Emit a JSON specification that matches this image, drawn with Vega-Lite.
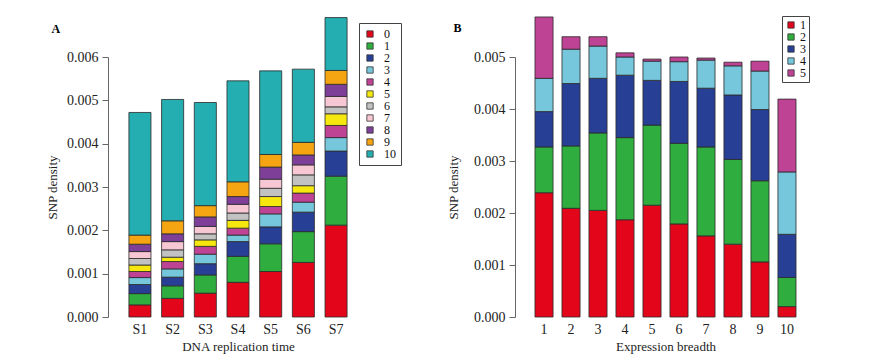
{
  "$schema": "https://vega.github.io/schema/vega-lite/v6.json",
  "background": "white",
  "padding": {"left": 46, "top": 15, "right": 5, "bottom": 5},
  "bounds": "flush",
  "spacing": 147,
  "datasets": {
    "a": [
      {"t":"S1","k":0,"v":0.00028},{"t":"S1","k":1,"v":0.00026},{"t":"S1","k":2,"v":0.00021},{"t":"S1","k":3,"v":0.00016},{"t":"S1","k":4,"v":0.00014},{"t":"S1","k":5,"v":0.00015},{"t":"S1","k":6,"v":0.00015},{"t":"S1","k":7,"v":0.00016},{"t":"S1","k":8,"v":0.00017},{"t":"S1","k":9,"v":0.00021},{"t":"S1","k":10,"v":0.00283},
      {"t":"S2","k":0,"v":0.00043},{"t":"S2","k":1,"v":0.00029},{"t":"S2","k":2,"v":0.00020},{"t":"S2","k":3,"v":0.00019},{"t":"S2","k":4,"v":0.00017},{"t":"S2","k":5,"v":0.00010},{"t":"S2","k":6,"v":0.00017},{"t":"S2","k":7,"v":0.00019},{"t":"S2","k":8,"v":0.00018},{"t":"S2","k":9,"v":0.00030},{"t":"S2","k":10,"v":0.00280},
      {"t":"S3","k":0,"v":0.00055},{"t":"S3","k":1,"v":0.00042},{"t":"S3","k":2,"v":0.00026},{"t":"S3","k":3,"v":0.00022},{"t":"S3","k":4,"v":0.00018},{"t":"S3","k":5,"v":0.00015},{"t":"S3","k":6,"v":0.00014},{"t":"S3","k":7,"v":0.00017},{"t":"S3","k":8,"v":0.00022},{"t":"S3","k":9,"v":0.00026},{"t":"S3","k":10,"v":0.00238},
      {"t":"S4","k":0,"v":0.00080},{"t":"S4","k":1,"v":0.00060},{"t":"S4","k":2,"v":0.00034},{"t":"S4","k":3,"v":0.00015},{"t":"S4","k":4,"v":0.00016},{"t":"S4","k":5,"v":0.00018},{"t":"S4","k":6,"v":0.00017},{"t":"S4","k":7,"v":0.00020},{"t":"S4","k":8,"v":0.00018},{"t":"S4","k":9,"v":0.00034},{"t":"S4","k":10,"v":0.00233},
      {"t":"S5","k":0,"v":0.00105},{"t":"S5","k":1,"v":0.00064},{"t":"S5","k":2,"v":0.00039},{"t":"S5","k":3,"v":0.00030},{"t":"S5","k":4,"v":0.00017},{"t":"S5","k":5,"v":0.00023},{"t":"S5","k":6,"v":0.00019},{"t":"S5","k":7,"v":0.00021},{"t":"S5","k":8,"v":0.00028},{"t":"S5","k":9,"v":0.00029},{"t":"S5","k":10,"v":0.00193},
      {"t":"S6","k":0,"v":0.00126},{"t":"S6","k":1,"v":0.00071},{"t":"S6","k":2,"v":0.00045},{"t":"S6","k":3,"v":0.00023},{"t":"S6","k":4,"v":0.00021},{"t":"S6","k":5,"v":0.00017},{"t":"S6","k":6,"v":0.00025},{"t":"S6","k":7,"v":0.00023},{"t":"S6","k":8,"v":0.00023},{"t":"S6","k":9,"v":0.00029},{"t":"S6","k":10,"v":0.00169},
      {"t":"S7","k":0,"v":0.00212},{"t":"S7","k":1,"v":0.00113},{"t":"S7","k":2,"v":0.00058},{"t":"S7","k":3,"v":0.00031},{"t":"S7","k":4,"v":0.00028},{"t":"S7","k":5,"v":0.00027},{"t":"S7","k":6,"v":0.00016},{"t":"S7","k":7,"v":0.00024},{"t":"S7","k":8,"v":0.00028},{"t":"S7","k":9,"v":0.00032},{"t":"S7","k":10,"v":0.00122}
    ],
    "b": [
      {"e":"1","k":1,"v":0.00239},{"e":"1","k":2,"v":0.00088},{"e":"1","k":3,"v":0.00068},{"e":"1","k":4,"v":0.00064},{"e":"1","k":5,"v":0.00118},
      {"e":"2","k":1,"v":0.00209},{"e":"2","k":2,"v":0.00120},{"e":"2","k":3,"v":0.00120},{"e":"2","k":4,"v":0.00066},{"e":"2","k":5,"v":0.00024},
      {"e":"3","k":1,"v":0.00205},{"e":"3","k":2,"v":0.00149},{"e":"3","k":3,"v":0.00105},{"e":"3","k":4,"v":0.00062},{"e":"3","k":5,"v":0.00018},
      {"e":"4","k":1,"v":0.00187},{"e":"4","k":2,"v":0.00158},{"e":"4","k":3,"v":0.00120},{"e":"4","k":4,"v":0.00035},{"e":"4","k":5,"v":0.00008},
      {"e":"5","k":1,"v":0.00215},{"e":"5","k":2,"v":0.00154},{"e":"5","k":3,"v":0.00086},{"e":"5","k":4,"v":0.00037},{"e":"5","k":5,"v":0.00004},
      {"e":"6","k":1,"v":0.00179},{"e":"6","k":2,"v":0.00155},{"e":"6","k":3,"v":0.00119},{"e":"6","k":4,"v":0.00038},{"e":"6","k":5,"v":0.00009},
      {"e":"7","k":1,"v":0.00156},{"e":"7","k":2,"v":0.00171},{"e":"7","k":3,"v":0.00113},{"e":"7","k":4,"v":0.00054},{"e":"7","k":5,"v":0.00004},
      {"e":"8","k":1,"v":0.00140},{"e":"8","k":2,"v":0.00163},{"e":"8","k":3,"v":0.00124},{"e":"8","k":4,"v":0.00056},{"e":"8","k":5,"v":0.00007},
      {"e":"9","k":1,"v":0.00106},{"e":"9","k":2,"v":0.00156},{"e":"9","k":3,"v":0.00137},{"e":"9","k":4,"v":0.00074},{"e":"9","k":5,"v":0.00019},
      {"e":"10","k":1,"v":0.00020},{"e":"10","k":2,"v":0.00056},{"e":"10","k":3,"v":0.00083},{"e":"10","k":4,"v":0.00120},{"e":"10","k":5,"v":0.00140}
    ]
  },
  "hconcat": [
    {
      "width": 260,
      "height": 260,
      "title": {"text": "A", "dy": 23, "dx": 5},
      "data": {"name": "a"},
      "mark": {"type": "bar", "stroke": "#2a2a2a", "strokeWidth": 0.8},
      "encoding": {
        "x": {"field": "t", "type": "nominal", "sort": ["S1","S2","S3","S4","S5","S6","S7"],
              "scale": {"paddingInner": 0.325, "paddingOuter": 0.64},
              "axis": {"title": "DNA replication time", "labelAngle": 0, "domain": false, "ticks": false, "labelPadding": 5, "titlePadding": 4}},
        "y": {"field": "v", "type": "quantitative", "aggregate": "sum", "stack": "zero",
              "scale": {"domain": [0, 0.006], "nice": false},
              "axis": {"title": "SNP density", "values": [0,0.001,0.002,0.003,0.004,0.005,0.006], "format": ".3f"}},
        "color": {"field": "k", "type": "nominal",
                  "scale": {"domain": [0,1,2,3,4,5,6,7,8,9,10],
                            "range": ["#e3061b","#2fad3f","#283f96","#76c6dc","#bf4395","#f6e80f","#c2c2c2","#f8c7d4","#7d3f97","#f4a511","#25aeb1"]},
                  "legend": {"title": null, "orient": "none", "legendX": 251, "legendY": -34}},
        "order": {"field": "k", "type": "quantitative"}
      }
    },
    {
      "width": 301,
      "height": 260,
      "title": {"text": "B", "dy": 23, "dx": 6},
      "data": {"name": "b"},
      "mark": {"type": "bar", "stroke": "#2a2a2a", "strokeWidth": 0.8},
      "encoding": {
        "x": {"field": "e", "type": "nominal", "sort": ["1","2","3","4","5","6","7","8","9","10"],
              "scale": {"paddingInner": 0.33, "paddingOuter": 0.74},
              "axis": {"title": "Expression breadth", "labelAngle": 0, "domain": false, "ticks": false, "labelPadding": 5, "titlePadding": 4}},
        "y": {"field": "v", "type": "quantitative", "aggregate": "sum", "stack": "zero",
              "scale": {"domain": [0, 0.005], "nice": false},
              "axis": {"title": "SNP density", "values": [0,0.001,0.002,0.003,0.004,0.005], "format": ".3f", "titlePadding": 13}},
        "color": {"field": "k", "type": "nominal",
                  "scale": {"domain": [1,2,3,4,5],
                            "range": ["#e3061b","#2fad3f","#283f96","#76c6dc","#bf4395"]},
                  "legend": {"title": null, "orient": "none", "legendX": 267, "legendY": -41, "padding": 3, "labelOffset": 3}},
        "order": {"field": "k", "type": "quantitative"}
      }
    }
  ],
  "resolve": {"scale": {"color": "independent"}, "legend": {"color": "independent"}},
  "config": {
    "font": "Liberation Serif",
    "view": {"stroke": null},
    "title": {"font": "Liberation Serif", "fontWeight": "bold", "fontSize": 12, "anchor": "start", "frame": "bounds", "color": "#000"},
    "axis": {"grid": false, "labelFont": "Liberation Serif", "titleFont": "Liberation Serif", "labelFontSize": 14, "titleFontSize": 13, "titleFontWeight": "normal", "labelColor": "#222", "titleColor": "#222"},
    "axisY": {"domainColor": "#666", "tickColor": "#666", "tickSize": 6, "labelPadding": 4, "titlePadding": 7},
    "legend": {"labelFont": "Liberation Serif", "labelFontSize": 12, "labelColor": "#111", "symbolType": "square", "symbolSize": 40, "symbolStrokeColor": "#333", "symbolStrokeWidth": 0.8, "symbolOpacity": 1, "strokeColor": "#444", "padding": 5, "rowPadding": -1, "labelOffset": 8, "fillColor": "white"}
  }
}
